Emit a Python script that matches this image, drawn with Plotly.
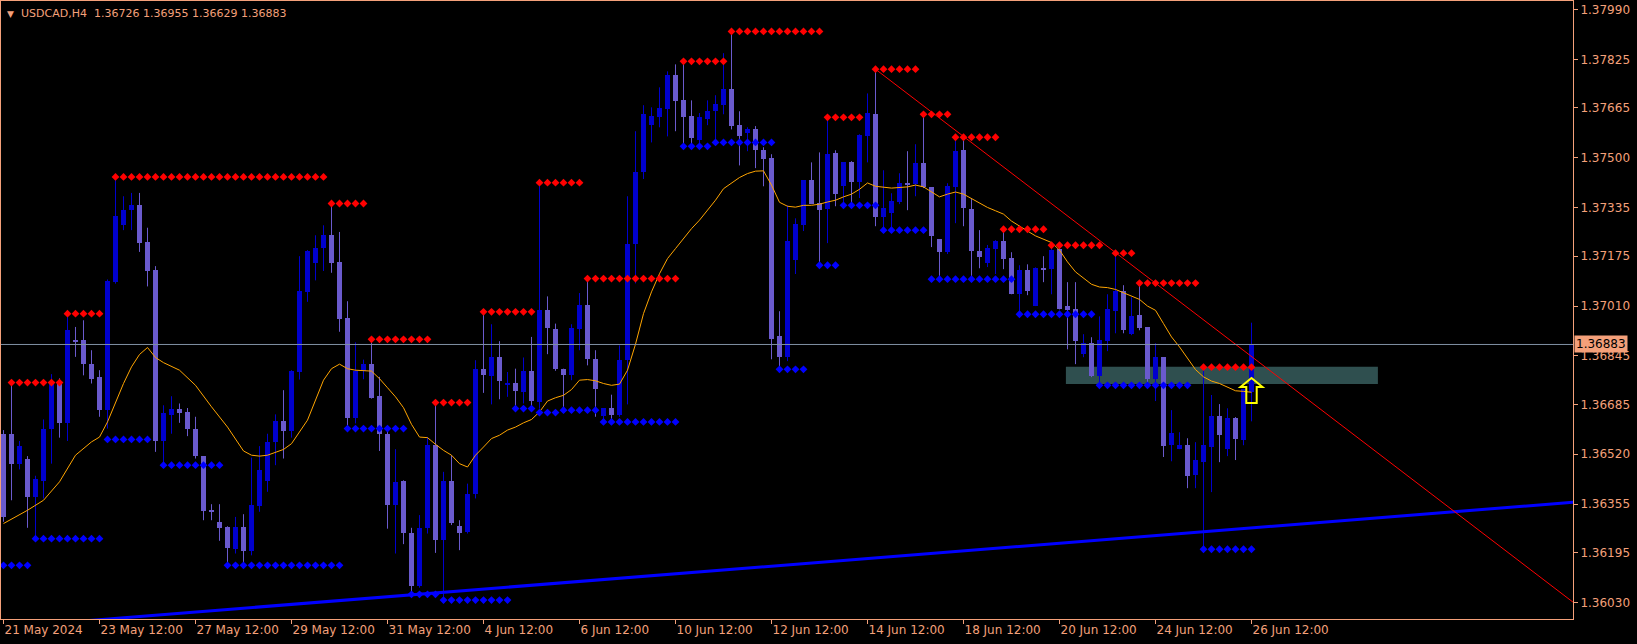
import plotly.graph_objects as go

# ---------------- data ----------------
symbol_title = "USDCAD,H4  1.36726 1.36955 1.36629 1.36883"
last_price = 1.36883

x_tick_bars = [0, 12, 24, 36, 48, 60, 72, 84, 96, 108, 120, 132, 144, 156]
x_tick_labels = ["21 May 2024", "23 May 12:00", "27 May 12:00", "29 May 12:00", "31 May 12:00",
                 "4 Jun 12:00", "6 Jun 12:00", "10 Jun 12:00", "12 Jun 12:00", "14 Jun 12:00",
                 "18 Jun 12:00", "20 Jun 12:00", "24 Jun 12:00", "26 Jun 12:00"]
y_tick_labels = ["1.37990", "1.37825", "1.37665", "1.37500", "1.37335", "1.37175", "1.37010",
                 "1.36845", "1.36685", "1.36520", "1.36355", "1.36195", "1.36030"]

opens = [1.36586, 1.36586, 1.36489, 1.36504, 1.36379, 1.36431, 1.36602, 1.36756, 1.36624, 1.36897,
         1.36897, 1.36820, 1.36775, 1.36668, 1.37090, 1.37277, 1.37327, 1.37343, 1.37221, 1.37128,
         1.36564, 1.36649, 1.36669, 1.36660, 1.36603, 1.36514, 1.36335, 1.36297, 1.36280, 1.36207,
         1.36280, 1.36201, 1.36349, 1.36431, 1.36561, 1.36630, 1.36597, 1.36792, 1.37057, 1.37153,
         1.37203, 1.37244, 1.37155, 1.36969, 1.36640, 1.36796, 1.36820, 1.36712, 1.36588, 1.36351,
         1.36431, 1.36260, 1.36084, 1.36277, 1.36550, 1.36238, 1.36431, 1.36282, 1.36263, 1.36390,
         1.36801, 1.36779, 1.36840, 1.36748, 1.36757, 1.36726, 1.36795, 1.36693, 1.36996, 1.36933,
         1.36803, 1.36781, 1.36933, 1.37013, 1.36836, 1.36647, 1.36673, 1.36649, 1.36831, 1.37215,
         1.37453, 1.37607, 1.37634, 1.37660, 1.37773, 1.37690, 1.37638, 1.37558, 1.37628, 1.37654,
         1.37674, 1.37726, 1.37607, 1.37581, 1.37595, 1.37525, 1.37499, 1.36910, 1.36841, 1.37162,
         1.37277, 1.37426, 1.37350, 1.37330, 1.37515, 1.37406, 1.37486, 1.37419, 1.37571, 1.37644,
         1.37304, 1.37317, 1.37353, 1.37416, 1.37413, 1.37482, 1.37403, 1.37231, 1.37188, 1.37403,
         1.37525, 1.37330, 1.37192, 1.37152, 1.37198, 1.37225, 1.37168, 1.37049, 1.37129, 1.37010,
         1.37135, 1.37132, 1.37198, 1.37010, 1.36999, 1.36851, 1.36887, 1.36778, 1.36894, 1.36993,
         1.37059, 1.36917, 1.36980, 1.36940, 1.36768, 1.36841, 1.36550, 1.36537, 1.36550, 1.36451,
         1.36494, 1.36544, 1.36646, 1.36537, 1.36639, 1.36567, 1.36726]
highs = [1.36600, 1.36757, 1.36564, 1.36514, 1.36449, 1.36635, 1.36785, 1.36771, 1.36985, 1.36941,
         1.36963, 1.36864, 1.36798, 1.37098, 1.37437, 1.37373, 1.37384, 1.37384, 1.37269, 1.37142,
         1.36682, 1.36712, 1.36688, 1.36673, 1.36644, 1.36514, 1.36355, 1.36355, 1.36282, 1.36313,
         1.36322, 1.36509, 1.36547, 1.36588, 1.36652, 1.36732, 1.36798, 1.37175, 1.37195, 1.37244,
         1.37277, 1.37349, 1.37255, 1.37026, 1.36890, 1.36833, 1.36900, 1.36776, 1.36594, 1.36537,
         1.36434, 1.36277, 1.36319, 1.36577, 1.36691, 1.36462, 1.36517, 1.36302, 1.36423, 1.36831,
         1.36991, 1.36950, 1.36894, 1.36792, 1.36803, 1.36840, 1.36908, 1.37418, 1.37042, 1.36952,
         1.36803, 1.36950, 1.37053, 1.37101, 1.36864, 1.36673, 1.36717, 1.36880, 1.37373, 1.37588,
         1.37674, 1.37667, 1.37733, 1.37786, 1.37809, 1.37817, 1.37690, 1.37648, 1.37690, 1.37707,
         1.37846, 1.37916, 1.37654, 1.37601, 1.37605, 1.37535, 1.37512, 1.36993, 1.37343, 1.37300,
         1.37426, 1.37485, 1.37518, 1.37630, 1.37525, 1.37486, 1.37489, 1.37578, 1.37713, 1.37793,
         1.37459, 1.37383, 1.37449, 1.37522, 1.37545, 1.37638, 1.37403, 1.37231, 1.37416, 1.37565,
         1.37558, 1.37367, 1.37261, 1.37212, 1.37228, 1.37261, 1.37188, 1.37145, 1.37148, 1.37138,
         1.37175, 1.37205, 1.37205, 1.37089, 1.37089, 1.36917, 1.36907, 1.36976, 1.37049, 1.37178,
         1.37079, 1.37039, 1.37085, 1.36940, 1.36887, 1.36841, 1.36666, 1.36593, 1.36573, 1.36560,
         1.36805, 1.36716, 1.36686, 1.36672, 1.36643, 1.36735, 1.36955]
lows = [1.36297, 1.36368, 1.36470, 1.36277, 1.36241, 1.36374, 1.36489, 1.36575, 1.36564, 1.36842,
        1.36781, 1.36754, 1.36644, 1.36605, 1.37084, 1.37261, 1.37261, 1.37189, 1.37075, 1.36528,
        1.36489, 1.36588, 1.36624, 1.36580, 1.36506, 1.36302, 1.36302, 1.36234, 1.36153, 1.36192,
        1.36148, 1.36186, 1.36330, 1.36396, 1.36484, 1.36506, 1.36575, 1.36767, 1.37024, 1.37095,
        1.37126, 1.37120, 1.36925, 1.36605, 1.36622, 1.36768, 1.36704, 1.36531, 1.36274, 1.36192,
        1.36223, 1.36054, 1.36079, 1.36258, 1.36194, 1.36035, 1.36286, 1.36203, 1.36258, 1.36374,
        1.36723, 1.36685, 1.36702, 1.36710, 1.36671, 1.36688, 1.36671, 1.36671, 1.36851, 1.36796,
        1.36660, 1.36765, 1.36864, 1.36814, 1.36644, 1.36627, 1.36633, 1.36644, 1.36685, 1.37085,
        1.37430, 1.37551, 1.37601, 1.37571, 1.37588, 1.37538, 1.37548, 1.37548, 1.37608, 1.37551,
        1.37644, 1.37594, 1.37475, 1.37522, 1.37466, 1.37406, 1.36834, 1.36794, 1.36828, 1.37116,
        1.37258, 1.37347, 1.37139, 1.37218, 1.37340, 1.37347, 1.37337, 1.37367, 1.37485, 1.37274,
        1.37271, 1.37271, 1.37347, 1.37327, 1.37373, 1.37400, 1.37205, 1.37095, 1.37182, 1.37284,
        1.37274, 1.37089, 1.37135, 1.37139, 1.37116, 1.37132, 1.37049, 1.36986, 1.37046, 1.37010,
        1.37089, 1.37049, 1.36999, 1.36867, 1.36818, 1.36841, 1.36775, 1.36755, 1.36861, 1.36920,
        1.36920, 1.36914, 1.36930, 1.36742, 1.36696, 1.36511, 1.36497, 1.36537, 1.36408, 1.36408,
        1.36210, 1.36395, 1.36494, 1.36514, 1.36501, 1.36550, 1.36629]
closes = [1.36313, 1.36489, 1.36548, 1.36379, 1.36438, 1.36602, 1.36756, 1.36624, 1.36930, 1.36890,
          1.36820, 1.36768, 1.36668, 1.37092, 1.37307, 1.37329, 1.37343, 1.37219, 1.37126, 1.36564,
          1.36655, 1.36669, 1.36655, 1.36603, 1.36514, 1.36333, 1.36331, 1.36277, 1.36211, 1.36280,
          1.36201, 1.36351, 1.36467, 1.36561, 1.36630, 1.36597, 1.36796, 1.37059, 1.37191, 1.37203,
          1.37244, 1.37153, 1.36966, 1.36640, 1.36796, 1.36820, 1.36707, 1.36586, 1.36351, 1.36429,
          1.36260, 1.36084, 1.36277, 1.36550, 1.36238, 1.36431, 1.36293, 1.36260, 1.36390, 1.36801,
          1.36781, 1.36840, 1.36763, 1.36757, 1.36730, 1.36795, 1.36696, 1.36996, 1.36938, 1.36801,
          1.36781, 1.36936, 1.37013, 1.36834, 1.36735, 1.36673, 1.36649, 1.36831, 1.37214, 1.37453,
          1.37644, 1.37637, 1.37664, 1.37773, 1.37687, 1.37634, 1.37565, 1.37634, 1.37654, 1.37677,
          1.37726, 1.37604, 1.37571, 1.37595, 1.37525, 1.37495, 1.36900, 1.36841, 1.37225, 1.37281,
          1.37426, 1.37347, 1.37327, 1.37512, 1.37380, 1.37486, 1.37419, 1.37575, 1.37647, 1.37304,
          1.37334, 1.37357, 1.37416, 1.37413, 1.37482, 1.37403, 1.37241, 1.37188, 1.37406, 1.37522,
          1.37334, 1.37192, 1.37172, 1.37202, 1.37225, 1.37165, 1.37049, 1.37129, 1.37059, 1.37135,
          1.37132, 1.37195, 1.36999, 1.36996, 1.36894, 1.36887, 1.36778, 1.36897, 1.36999, 1.37059,
          1.36930, 1.36976, 1.36937, 1.36768, 1.36841, 1.36547, 1.36590, 1.36550, 1.36448, 1.36501,
          1.36550, 1.36646, 1.36583, 1.36639, 1.36570, 1.36735, 1.36883]

# moving average (orange) sampled at bar indices
ma_bars = [0, 3, 5, 7, 9, 11, 12, 13, 15, 16, 17, 18, 19, 20, 22, 24, 26, 28, 30, 31, 32, 33, 35, 36, 38,
           40, 41, 42, 43, 44, 46, 47, 48, 49, 50, 51, 52, 53, 54, 55, 56, 57, 58, 59, 60, 61, 62, 63, 64,
           65, 66, 67, 68, 69, 70, 71, 72, 73, 74, 75, 76, 77, 78, 79, 80, 81, 82, 83, 84, 85, 86, 87, 88,
           89, 90, 91, 92, 93, 94, 95, 96, 97, 98, 99, 100, 101, 102, 103, 104, 105, 106, 107, 108, 109,
           110, 111, 113, 114, 115, 116, 117, 118, 119, 120, 121, 122, 123, 124, 125, 126, 127, 128, 129,
           130, 131, 132, 133, 134, 135, 136, 137, 138, 139, 140, 141, 142, 143, 144, 145, 146, 147, 148,
           149, 150, 151, 152, 153, 154, 155, 156]
ma_vals = [1.36291, 1.36335, 1.36368, 1.36429, 1.36517, 1.36561, 1.36577, 1.36627, 1.36754, 1.36809,
           1.36850, 1.36873, 1.36840, 1.36823, 1.36798, 1.36748, 1.36677, 1.36610, 1.36531, 1.36517,
           1.36514, 1.36517, 1.36536, 1.36555, 1.36633, 1.36765, 1.36803, 1.36818, 1.36803, 1.36798,
           1.36795, 1.36770, 1.36740, 1.36710, 1.36674, 1.36619, 1.36577, 1.36575, 1.36553, 1.36533,
           1.36517, 1.36489, 1.36478, 1.36517, 1.36544, 1.36572, 1.36583, 1.36600, 1.36610, 1.36624,
           1.36635, 1.36660, 1.36696, 1.36707, 1.36715, 1.36734, 1.36765, 1.36767, 1.36763, 1.36754,
           1.36748, 1.36752, 1.36798, 1.36884, 1.36985, 1.37057, 1.37117, 1.37167, 1.37200, 1.37233,
           1.37266, 1.37294, 1.37327, 1.37360, 1.37398, 1.37418, 1.37435, 1.37448, 1.37456, 1.37457,
           1.37410, 1.37353, 1.37340, 1.37337, 1.37343, 1.37343, 1.37347, 1.37354, 1.37360, 1.37371,
           1.37380, 1.37396, 1.37417, 1.37406, 1.37404, 1.37400, 1.37404, 1.37410, 1.37404, 1.37387,
           1.37371, 1.37380, 1.37387, 1.37380, 1.37366, 1.37351, 1.37336, 1.37325, 1.37314, 1.37291,
           1.37273, 1.37258, 1.37242, 1.37230, 1.37220, 1.37195, 1.37156, 1.37123, 1.37101, 1.37082,
           1.37073, 1.37071, 1.37065, 1.37054, 1.37043, 1.37032, 1.37010, 1.36996, 1.36952, 1.36908,
           1.36875, 1.36837, 1.36800, 1.36776, 1.36762, 1.36754, 1.36743, 1.36730, 1.36728, 1.36725]

# resistance (red) and support (blue) dot levels: first bar, last bar, price
res_start = [1, 8, 14, 41, 46, 54, 60, 67, 73, 85, 91, 103, 109, 115, 119, 125, 131, 139, 142, 150]
res_end = [7, 12, 40, 45, 53, 58, 66, 72, 84, 90, 102, 107, 114, 118, 124, 130, 137, 141, 149, 156]
res_level = [1.36757, 1.36985, 1.37437, 1.37349, 1.36900, 1.36691, 1.36991, 1.37418, 1.37101, 1.37819,
             1.37918, 1.37634, 1.37793, 1.37644, 1.37568, 1.37264, 1.37211, 1.37185, 1.37086, 1.36808]
sup_start = [0, 4, 13, 20, 28, 43, 51, 55, 64, 67, 70, 75, 85, 89, 97, 102, 105, 110, 116, 127, 137, 150]
sup_end = [3, 12, 18, 27, 42, 50, 54, 63, 66, 69, 74, 84, 88, 96, 100, 104, 109, 115, 126, 136, 148, 156]
sup_level = [1.36153, 1.36241, 1.36569, 1.36484, 1.36153, 1.36605, 1.36057, 1.36038, 1.36671, 1.36658,
             1.36666, 1.36627, 1.37538, 1.37551, 1.36801, 1.37145, 1.37343, 1.37261, 1.37099, 1.36983,
             1.36748, 1.36206]

# trend lines: anchor bars and prices
blue_tl_bars = [10, 195]
blue_tl_prices = [1.35969, 1.36359]
red_tl_bars = [109, 196]
red_tl_prices = [1.37793, 1.36035]

# zone rectangle and signal arrow
zone_bars = [132.8, 171.8]
zone_prices = [1.36752, 1.36809]
arrow_bar = 156
arrow_price = 1.36772

# ---------------- styling ----------------
FG = "#F4A07A"
BULL = "#0000CD"
BEAR = "#6A5ACD"
FONT = "DejaVu Sans"
W, H = 1637, 644
ML, MR, MT, MB = 1, 64, 1, 25
x_range = [-0.3125, 196.1875]
y_range = [1.359755, 1.380185]

fig = go.Figure()

# candles: wicks + bodies
def wick_xy(sel):
    xs, ys = [], []
    for i in sel:
        xs += [i, i, None]
        ys += [lows[i], highs[i], None]
    return xs, ys

bull_idx = [i for i in range(len(opens)) if closes[i] >= opens[i]]
bear_idx = [i for i in range(len(opens)) if closes[i] < opens[i]]

min_h = 0.00004
for sel, col in ((bull_idx, BULL), (bear_idx, BEAR)):
    wx, wy = wick_xy(sel)
    fig.add_trace(go.Scatter(x=wx, y=wy, mode="lines", line=dict(color=col, width=1),
                             hoverinfo="skip", showlegend=False))
    fig.add_trace(go.Bar(
        x=sel,
        base=[min(opens[i], closes[i]) - (max(min_h - abs(closes[i] - opens[i]), 0) / 2) for i in sel],
        y=[max(abs(closes[i] - opens[i]), min_h) for i in sel],
        width=0.625, marker=dict(color=col, line=dict(width=0)),
        hoverinfo="skip", showlegend=False))

# moving average
fig.add_trace(go.Scatter(x=ma_bars, y=ma_vals, mode="lines", line=dict(color="#FFA500", width=1),
                         hoverinfo="skip", showlegend=False))

# dot levels
def dots(starts, ends, levels):
    xs, ys = [], []
    for s, e, lv in zip(starts, ends, levels):
        for b in range(s, e + 1):
            xs.append(b)
            ys.append(lv)
    return xs, ys

rx, ry = dots(res_start, res_end, res_level)
sx, sy = dots(sup_start, sup_end, sup_level)
fig.add_trace(go.Scatter(x=rx, y=ry, mode="markers",
                         marker=dict(symbol="diamond", size=6, color="#FF0000", line=dict(width=0)),
                         hoverinfo="skip", showlegend=False))
fig.add_trace(go.Scatter(x=sx, y=sy, mode="markers",
                         marker=dict(symbol="diamond", size=6, color="#0000FF", line=dict(width=0)),
                         hoverinfo="skip", showlegend=False))

# trend lines (extended as rays)
bslope = (blue_tl_prices[1] - blue_tl_prices[0]) / (blue_tl_bars[1] - blue_tl_bars[0])
bx0, bx1 = -5, 205
fig.add_trace(go.Scatter(x=[bx0, bx1],
                         y=[blue_tl_prices[0] + bslope * (bx0 - blue_tl_bars[0]),
                            blue_tl_prices[0] + bslope * (bx1 - blue_tl_bars[0])],
                         mode="lines", line=dict(color="#0000FF", width=3),
                         hoverinfo="skip", showlegend=False))
rslope = (red_tl_prices[1] - red_tl_prices[0]) / (red_tl_bars[1] - red_tl_bars[0])
fig.add_trace(go.Scatter(x=[red_tl_bars[0], 205],
                         y=[red_tl_prices[0], red_tl_prices[0] + rslope * (205 - red_tl_bars[0])],
                         mode="lines", line=dict(color="#FF0000", width=1),
                         hoverinfo="skip", showlegend=False))

# current price line
fig.add_trace(go.Scatter(x=[x_range[0] - 2, x_range[1] + 2], y=[last_price, last_price], mode="lines",
                         line=dict(color="#8090A4", width=1), hoverinfo="skip", showlegend=False))

# zone rectangle (background)
fig.add_shape(type="rect", xref="x", yref="y", x0=zone_bars[0], x1=zone_bars[1],
              y0=zone_prices[0], y1=zone_prices[1], fillcolor="#2F4F4F",
              line=dict(width=0), layer="below")

# signal arrow (outline)
px_per_bar = 8.0
price_per_px = (y_range[1] - y_range[0]) / (H - MT - MB)
hw_head, hw_stem = 11 / px_per_bar, 5.2 / px_per_bar
h_head, h_tot = 9 * price_per_px, 25 * price_per_px
ax, ay = arrow_bar, arrow_price
path = (f"M {ax},{ay} L {ax + hw_head},{ay - h_head} L {ax + hw_stem},{ay - h_head} "
        f"L {ax + hw_stem},{ay - h_tot} L {ax - hw_stem},{ay - h_tot} L {ax - hw_stem},{ay - h_head} "
        f"L {ax - hw_head},{ay - h_head} Z")
fig.add_shape(type="path", xref="x", yref="y", path=path,
              line=dict(color="#FFFF00", width=2), fillcolor="rgba(0,0,0,0)", layer="above")

# title
fig.add_annotation(xref="paper", yref="paper", x=0, y=1, xanchor="left", yanchor="top",
                   xshift=4, yshift=-6, text="▼", showarrow=False,
                   font=dict(family=FONT, size=9, color=FG))
fig.add_annotation(xref="paper", yref="paper", x=0, y=1, xanchor="left", yanchor="top",
                   xshift=18, yshift=-4, text=symbol_title, showarrow=False,
                   font=dict(family=FONT, size=11, color=FG))

# last price label
fig.add_annotation(xref="paper", yref="y", x=1, y=last_price, xanchor="left", yanchor="middle",
                   xshift=1, text=f"{last_price:.5f}", showarrow=False, bgcolor=FG, borderpad=1,
                   font=dict(family=FONT, size=12, color="#000000"))

fig.update_layout(
    width=W, height=H,
    margin=dict(l=ML, r=MR, t=MT, b=MB, pad=0),
    paper_bgcolor="#000000", plot_bgcolor="#000000",
    barmode="overlay", bargap=0, showlegend=False,
    xaxis=dict(range=x_range, tickvals=x_tick_bars, ticktext=x_tick_labels,
               ticks="outside", ticklen=4, tickcolor=FG, ticklabelposition="outside right",
               showline=True, linecolor=FG, linewidth=1, mirror=True,
               showgrid=False, zeroline=False, fixedrange=True,
               tickfont=dict(family=FONT, size=12, color=FG)),
    yaxis=dict(range=y_range, side="right", tickvals=[float(t) for t in y_tick_labels],
               ticktext=y_tick_labels, ticks="outside", ticklen=4, tickcolor=FG,
               showline=True, linecolor=FG, linewidth=1, mirror=True,
               showgrid=False, zeroline=False, fixedrange=True,
               tickfont=dict(family=FONT, size=12, color=FG)),
)

fig.write_html("out.html", config={"displayModeBar": False},
               post_script="document.body.style.margin='0';document.body.style.padding='0';"
                           "document.body.style.background='#000';document.body.style.overflow='hidden';")
